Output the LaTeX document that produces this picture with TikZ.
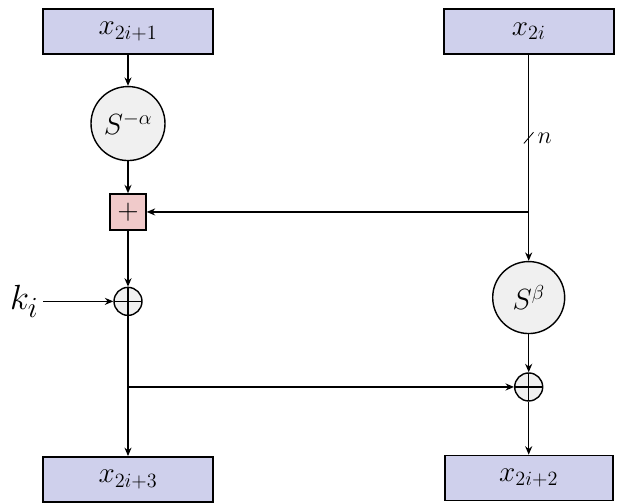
\documentclass[tikz,border=0pt]{standalone}
\usetikzlibrary{arrows.meta, positioning}

\definecolor{boxblue}{RGB}{207,208,236}
\definecolor{addpink}{RGB}{240,202,202}
\definecolor{rotgray}{RGB}{240,240,240}

\begin{document}
\begin{tikzpicture}[
    font=\huge,
    wordbox/.style={rectangle, draw, line width=1.2pt, fill=boxblue, minimum width=4.25cm, minimum height=1.125cm, inner sep=0pt},
    rotnode/.style={circle, draw, line width=1pt, fill=rotgray, minimum size=1.85cm, inner sep=0pt},
    addbox/.style={rectangle, draw, line width=1pt, fill=addpink, minimum size=0.9cm, inner sep=0pt},
    xornode/.style={circle, draw, line width=1pt, fill=rotgray, minimum size=0.7cm, inner sep=0pt,
        path picture={\draw[line width=1pt] (path picture bounding box.north) -- (path picture bounding box.south)
            (path picture bounding box.west) -- (path picture bounding box.east);}},
    arrow/.style={-{Stealth[length=6pt, width=5pt]}, line width=0.95pt}
]
\useasboundingbox (0,0) rectangle (15.6,-12.575);

% Inputs
\node[wordbox] (in1) at (3.2,-0.7875) {$x_{2i+1}$};
\node[wordbox, right=5.725cm of in1] (in2) {$x_{2i}$};

% Left branch
\node[rotnode, below=0.775cm of in1] (sminus) {$S^{-\alpha}$};
\node[addbox, below=0.8cm of sminus] (plus) {$+$};
\node[xornode, below=1.4cm of plus] (xorl) {};
\node[font=\Huge, left=1.75cm of xorl] (key) {$k_i$};
\node[wordbox, below=3.5cm of xorl] (out1) {$x_{2i+3}$};

% Right branch
\node[rotnode, minimum size=1.8cm, below=5.15cm of in2] (sbeta) {$S^{\beta}$};
\node[xornode, below=0.95cm of sbeta] (xorr) {};
\node[wordbox, minimum width=4.2cm, below=1.325cm of xorr] (out2) {$x_{2i+2}$};

% Taps
\coordinate (tap) at (in2.south |- plus);
\coordinate (split) at (xorl |- xorr);
\coordinate (width) at ([yshift=-2.075cm]in2.south);

% Connectors
\draw[arrow] (in1) -- (sminus);
\draw[arrow] (sminus) -- (plus);
\draw[arrow] (plus) -- (xorl);
\draw[arrow] (key) -- (xorl);
\draw[arrow] (xorl) -- (out1);
\draw[arrow] (in2) -- (sbeta);
\draw[arrow] (tap) -- (plus);
\draw[arrow] (split) -- (xorr);
\draw[arrow] (sbeta) -- (xorr);
\draw[arrow] (xorr) -- (out2);

% Bus width mark
\draw[line width=0.6pt] ([shift={(-0.12cm,-0.14cm)}]width) -- ([shift={(0.12cm,0.14cm)}]width);
\node[font=\LARGE, right=0.1cm of width] (bits) {$n$};

\end{tikzpicture}
\end{document}
